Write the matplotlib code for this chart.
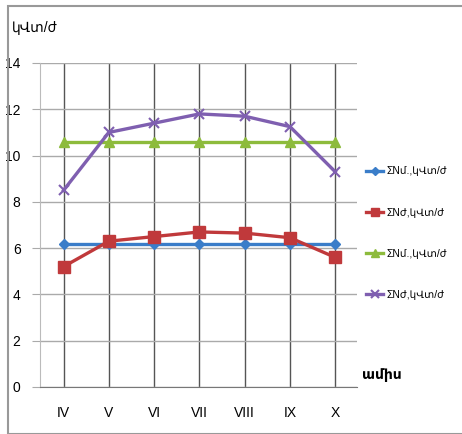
import matplotlib.pyplot as plt
from matplotlib.patches import Rectangle

# months and series values
months = ['IV', 'V', 'VI', 'VII', 'VIII', 'IX', 'X']
sum_nm1 = [6.2, 6.2, 6.2, 6.2, 6.2, 6.2, 6.2]
sum_nd1 = [5.2, 6.3, 6.5, 6.7, 6.65, 6.45, 5.6]
sum_nm2 = [10.6, 10.6, 10.6, 10.6, 10.6, 10.6, 10.6]
sum_nd2 = [8.5, 11.0, 11.4, 11.8, 11.7, 11.25, 9.3]
labels = ['ΣNմ.,կՎտ/ժ', 'ΣNժ,կՎտ/ժ', 'ΣNմ.,կՎտ/ժ', 'ΣNժ,կՎտ/ժ']

fam = ['Liberation Sans Narrow', 'Liberation Sans', 'DejaVu Sans']
plt.rcParams['font.family'] = fam

fig = plt.figure(figsize=(4.62, 4.34), dpi=100)
ax = fig.add_axes([40/462, 1 - 387/434, 317/462, 324/434])

x = range(len(months))
ax.plot(x, sum_nm1, color='#3a7dc9', marker='D', ms=5, lw=2.4, label=labels[0], zorder=4)
ax.plot(x, sum_nd1, color='#c0393b', marker='s', ms=8, lw=2.4, label=labels[1], zorder=4)
ax.plot(x, sum_nm2, color='#8dbb3c', marker='^', ms=7, lw=2.4, label=labels[2], zorder=4)
ax.plot(x, sum_nd2, color='#7f5fb0', marker='x', ms=7, mew=1.5, lw=2.4, label=labels[3], zorder=4)

ax.set_xlim(-0.52, 6.48)
ax.set_ylim(0, 14)
ax.set_yticks(range(0, 15, 2))
ax.set_xticks(list(x))
ax.set_xticklabels(months)
ax.grid(axis='y', color='#aaaaaa', lw=1)
ax.grid(axis='x', color='#555555', lw=1)
ax.set_axisbelow(True)
for s in ['top', 'right']:
    ax.spines[s].set_visible(False)
ax.spines['left'].set_color('#bbbbbb')
ax.spines['bottom'].set_color('#777777')
ax.tick_params(axis='y', length=6, color='#aaaaaa', labelsize=10, pad=8)
ax.tick_params(axis='x', length=0, labelsize=10, pad=14)

fig.text(12/462, 1 - 28/434, 'կՎտ/ժ', fontsize=10, va='center', family=fam)
fig.text(362/462, 1 - 375/434, 'ամիս', fontsize=10, va='center', weight='bold', family=fam)

fig.legend(loc='upper left', bbox_to_anchor=(357/462, 1 - 157/434), frameon=False,
           fontsize=7.5, labelspacing=3.0, handlelength=1.6, handletextpad=0.3,
           markerscale=0.8)

fig.patches.append(Rectangle((8/462, 0), 1, 1 - 6/434, transform=fig.transFigure,
                             fill=False, edgecolor='#999999', lw=1.5))

fig.savefig('out.png', dpi=100)
